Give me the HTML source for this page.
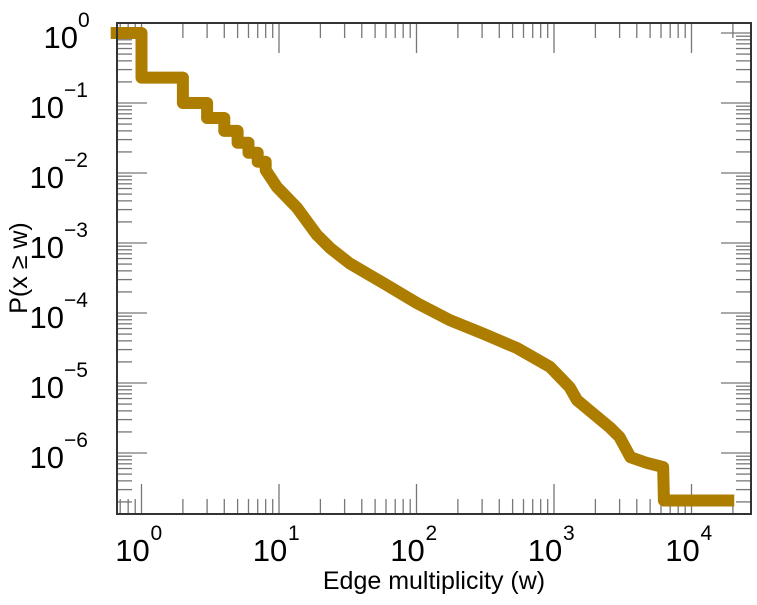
<!DOCTYPE html>
<html><head><meta charset="utf-8"><style>
body{margin:0;background:#fff;}
svg text{font-family:"Liberation Sans",sans-serif;fill:#000;}
</style></head><body>
<svg id="chart" width="757" height="600" xmlns="http://www.w3.org/2000/svg"></svg>
<script>
const stepW=[0.66,1,2,3,4,5,6,7,8];
const stepP=[1,0.23,0.1,0.061,0.04,0.027,0.0195,0.0145,0.011];
const curveW=[8,9.66,13.5,18.9,23.5,32.7,57,101,175,303,537,935,1300,1470,2560,2990,3600,4750,6220,6300,18500];
const curveP=[0.011,0.0063,0.0032,0.0013,0.00085,0.00051,0.00027,0.000138,0.000079,0.000051,0.0000316,0.000017,0.0000087,0.0000057,0.0000023,0.0000017,0.00000087,0.00000072,0.00000063,0.00000021,0.00000021];
const xTickExps=[0,1,2,3,4];
const yTickExps=[0,-1,-2,-3,-4,-5,-6];
const NS="http://www.w3.org/2000/svg";
const svg=document.getElementById('chart');
const L=117,R=751,T=23,B=514;
const xs=w=>141.5+137.5*Math.log10(w);
const ys=p=>33-70*Math.log10(p);
function mk(tag,attrs,parent){const e=document.createElementNS(NS,tag);for(const k in attrs)e.setAttribute(k,attrs[k]);(parent||svg).appendChild(e);return e;}
for(let e=-1;e<=4;e++){for(let m=1;m<10;m++){const x=xs(m*Math.pow(10,e));if(x<L||x>R)continue;const len=m==1?30:15;
const t1=mk('line',{x1:x,x2:x,y1:B,y2:B-len,stroke:'#777','stroke-width':1.3});


const t2=mk('line',{x1:x,x2:x,y1:T,y2:T+len,stroke:'#777','stroke-width':1.3});

}}
for(let e=-7;e<=0;e++){for(let m=1;m<10;m++){const y=ys(m*Math.pow(10,e));if(y<T||y>B)continue;const len=m==1?30:15;
const t1=mk('line',{x1:L,x2:L+len,y1:y,y2:y,stroke:'#777','stroke-width':1.3});


const t2=mk('line',{x1:R,x2:R-len,y1:y,y2:y,stroke:'#777','stroke-width':1.3});

}}
let d='M'+xs(stepW[0])+','+ys(stepP[0]);
for(let i=1;i<stepW.length;i++){d+=' H'+xs(stepW[i])+' V'+ys(stepP[i]);}
for(let i=0;i<curveW.length;i++){d+=' L'+xs(curveW[i])+','+ys(curveP[i]);}
const path=mk('path',{d:d,fill:'none',stroke:'#ad7d00','stroke-width':12,'stroke-linejoin':'round','stroke-linecap':'square'});


const box=mk('rect',{x:L,y:T,width:R-L,height:B-T,fill:'none',stroke:'#333','stroke-width':2});


xTickExps.forEach(e=>{const x=xs(Math.pow(10,e));
const t=mk('text',{x:x-9,y:561,'font-size':31,'text-anchor':'middle'});t.textContent='10';


const s=mk('text',{x:x+9,y:540,'font-size':21});s.textContent=String(e);

});
yTickExps.forEach(e=>{const y=ys(Math.pow(10,e));
const t=mk('text',{x:e==0?78:64,y:y+15,'font-size':31,'text-anchor':'end'});t.textContent='10';


const s=mk('text',{x:e==0?78:64,y:y-6,'font-size':21});s.textContent=e==0?'0':'\u2212'+(-e);

});
const xt=mk('text',{x:434,y:589,'font-size':25,'text-anchor':'middle'});xt.textContent='Edge multiplicity (w)';


const yt=mk('text',{x:0,y:0,'font-size':25,'text-anchor':'middle',transform:'translate(27,268) rotate(-90)'});yt.textContent='P(x \u2265 w)';


</script>
</body></html>
